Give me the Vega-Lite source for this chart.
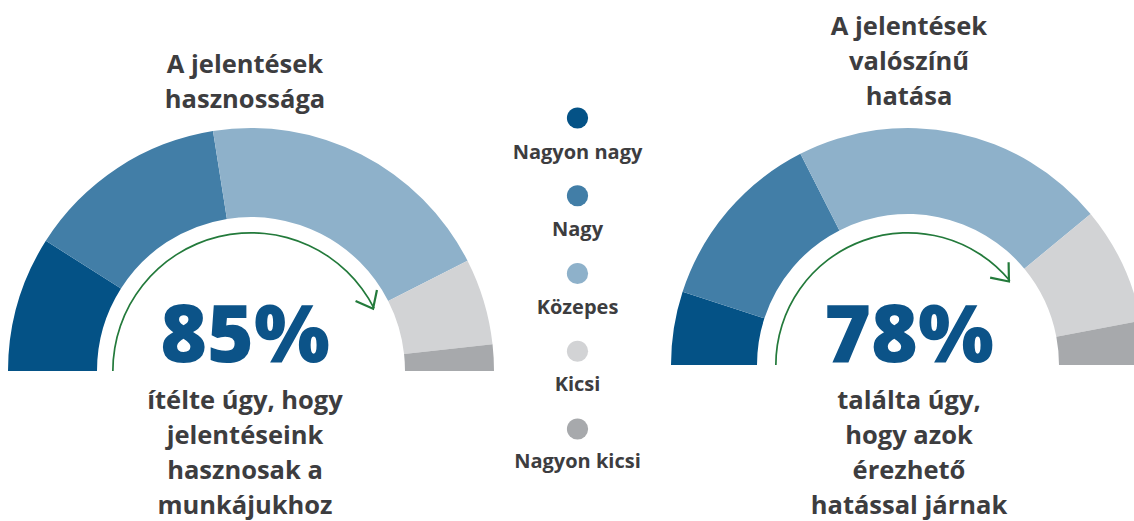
{
  "$schema": "https://vega.github.io/schema/vega-lite/v6.json",
  "width": 1134,
  "height": 521,
  "autosize": "none",
  "padding": 0,
  "background": "white",
  "config": {"view": {"stroke": null}},
  "datasets": {
    "segments": [
      {"gauge": "A", "category": "Nagyon nagy", "rank": 1, "share": 18},
      {"gauge": "A", "category": "Nagy", "rank": 2, "share": 27},
      {"gauge": "A", "category": "Közepes", "rank": 3, "share": 40},
      {"gauge": "A", "category": "Kicsi", "rank": 4, "share": 11.5},
      {"gauge": "A", "category": "Nagyon kicsi", "rank": 5, "share": 3.5},
      {"gauge": "B", "category": "Nagyon nagy", "rank": 1, "share": 10},
      {"gauge": "B", "category": "Nagy", "rank": 2, "share": 25},
      {"gauge": "B", "category": "Közepes", "rank": 3, "share": 43},
      {"gauge": "B", "category": "Kicsi", "rank": 4, "share": 16},
      {"gauge": "B", "category": "Nagyon kicsi", "rank": 5, "share": 6}
    ],
    "gauges": [
      {"gauge": "A", "pct": 0.85, "title": "A jelentések\nhasznossága", "caption": "ítélte úgy, hogy\njelentéseink\nhasznosak a\nmunkájukhoz"},
      {"gauge": "B", "pct": 0.78, "title": "A jelentések\nvalószínű\nhatása", "caption": "találta úgy,\nhogy azok\nérezhető\nhatással járnak"}
    ],
    "legend": [
      {"category": "Nagyon nagy"},
      {"category": "Nagy"},
      {"category": "Közepes"},
      {"category": "Kicsi"},
      {"category": "Nagyon kicsi"}
    ]
  },
  "layer": [
    {
      "data": {"name": "segments"},
      "transform": [
        {"filter": "datum.gauge === 'A'"},
        {"stack": "share", "groupby": ["gauge"], "sort": [{"field": "rank", "order": "ascending"}], "offset": "normalize", "as": ["v0", "v1"]}
      ],
      "mark": {"type": "arc", "radius": 243, "radius2": 154},
      "encoding": {
        "x": {"field": "gauge", "type": "nominal", "scale": {"type": "point", "domain": ["A", "L", "B"], "range": [251, 908], "padding": 0}, "axis": null},
        "y": {"field": "gauge", "type": "nominal", "scale": {"type": "point", "domain": ["A", "B"], "range": [371, 365], "padding": 0}, "axis": null},
        "theta": {"field": "v0", "type": "quantitative", "scale": {"domain": [0, 1], "range": [-1.5707963, 1.5707963]}},
        "theta2": {"field": "v1"},
        "color": {"field": "category", "type": "nominal", "scale": {"domain": ["Nagyon nagy", "Nagy", "Közepes", "Kicsi", "Nagyon kicsi"], "range": ["#045286", "#427ea7", "#8eb1ca", "#d2d3d5", "#a7a9ac"]}, "legend": null}
      }
    },
    {
      "data": {"name": "segments"},
      "transform": [
        {"filter": "datum.gauge === 'B'"},
        {"stack": "share", "groupby": ["gauge"], "sort": [{"field": "rank", "order": "ascending"}], "offset": "normalize", "as": ["v0", "v1"]}
      ],
      "mark": {"type": "arc", "radius": 237, "radius2": 151},
      "encoding": {
        "x": {"field": "gauge", "type": "nominal", "scale": {"type": "point", "domain": ["A", "L", "B"], "range": [251, 908], "padding": 0}, "axis": null},
        "y": {"field": "gauge", "type": "nominal", "scale": {"type": "point", "domain": ["A", "B"], "range": [371, 365], "padding": 0}, "axis": null},
        "theta": {"field": "v0", "type": "quantitative", "scale": {"domain": [0, 1], "range": [-1.5707963, 1.5707963]}},
        "theta2": {"field": "v1"},
        "color": {"field": "category", "type": "nominal", "scale": {"domain": ["Nagyon nagy", "Nagy", "Közepes", "Kicsi", "Nagyon kicsi"], "range": ["#045286", "#427ea7", "#8eb1ca", "#d2d3d5", "#a7a9ac"]}, "legend": null}
      }
    },
    {
      "data": {"name": "gauges"},
      "transform": [
        {"filter": "datum.gauge === 'A'"},
        {"stack": "pct", "groupby": ["gauge"], "as": ["a0", "a1"]}
      ],
      "mark": {"type": "arc", "radius": 139, "radius2": 137.3, "color": "#237a3b"},
      "encoding": {
        "x": {"field": "gauge", "type": "nominal", "scale": {"type": "point", "domain": ["A", "L", "B"], "range": [251, 908], "padding": 0}, "axis": null},
        "y": {"field": "gauge", "type": "nominal", "scale": {"type": "point", "domain": ["A", "B"], "range": [371, 365], "padding": 0}, "axis": null},
        "theta": {"field": "a0", "type": "quantitative", "scale": {"domain": [0, 1], "range": [-1.5707963, 1.5707963]}},
        "theta2": {"field": "a1"}
      }
    },
    {
      "data": {"name": "gauges"},
      "transform": [
        {"filter": "datum.gauge === 'B'"},
        {"stack": "pct", "groupby": ["gauge"], "as": ["a0", "a1"]}
      ],
      "mark": {"type": "arc", "radius": 133, "radius2": 131.3, "color": "#237a3b"},
      "encoding": {
        "x": {"field": "gauge", "type": "nominal", "scale": {"type": "point", "domain": ["A", "L", "B"], "range": [251, 908], "padding": 0}, "axis": null},
        "y": {"field": "gauge", "type": "nominal", "scale": {"type": "point", "domain": ["A", "B"], "range": [371, 365], "padding": 0}, "axis": null},
        "theta": {"field": "a0", "type": "quantitative", "scale": {"domain": [0, 1], "range": [-1.5707963, 1.5707963]}},
        "theta2": {"field": "a1"}
      }
    },
    {
      "data": {"name": "gauges"},
      "transform": [{"filter": "datum.gauge === 'A'"}],
      "mark": {"type": "point", "shape": "M -15 -149 L 0 -137 L -15 -125", "size": 4, "filled": false, "stroke": "#237a3b", "strokeWidth": 2.2, "opacity": 1},
      "encoding": {
        "x": {"field": "gauge", "type": "nominal", "scale": {"type": "point", "domain": ["A", "L", "B"], "range": [251, 908], "padding": 0}, "axis": null},
        "y": {"field": "gauge", "type": "nominal", "scale": {"type": "point", "domain": ["A", "B"], "range": [371, 365], "padding": 0}, "axis": null},
        "angle": {"field": "pct", "type": "quantitative", "scale": {"domain": [0, 1], "range": [-90, 90]}}
      }
    },
    {
      "data": {"name": "gauges"},
      "transform": [{"filter": "datum.gauge === 'B'"}],
      "mark": {"type": "point", "shape": "M -15 -143 L 0 -131 L -15 -119", "size": 4, "filled": false, "stroke": "#237a3b", "strokeWidth": 2.2, "opacity": 1},
      "encoding": {
        "x": {"field": "gauge", "type": "nominal", "scale": {"type": "point", "domain": ["A", "L", "B"], "range": [251, 908], "padding": 0}, "axis": null},
        "y": {"field": "gauge", "type": "nominal", "scale": {"type": "point", "domain": ["A", "B"], "range": [371, 365], "padding": 0}, "axis": null},
        "angle": {"field": "pct", "type": "quantitative", "scale": {"domain": [0, 1], "range": [-90, 90]}}
      }
    },
    {
      "data": {"name": "gauges"},
      "mark": {"type": "text", "font": "Open Sans", "fontWeight": "bold", "fontSize": 25.5, "lineHeight": 35, "lineBreak": "\n", "color": "#3d3d3f", "align": "center", "baseline": "alphabetic"},
      "encoding": {
        "x": {"field": "gauge", "type": "nominal", "scale": {"type": "point", "domain": ["A", "L", "B"], "range": [245, 909], "padding": 0}, "axis": null},
        "y": {"field": "gauge", "type": "nominal", "scale": {"type": "point", "domain": ["A", "B"], "range": [73, 35], "padding": 0}, "axis": null},
        "text": {"field": "title"}
      }
    },
    {
      "data": {"name": "gauges"},
      "mark": {"type": "text", "font": "Open Sans", "fontWeight": 800, "fontSize": 80, "color": "#0c5388", "align": "center", "baseline": "alphabetic"},
      "encoding": {
        "x": {"field": "gauge", "type": "nominal", "scale": {"type": "point", "domain": ["A", "L", "B"], "range": [245, 909], "padding": 0}, "axis": null},
        "y": {"field": "gauge", "type": "nominal", "scale": {"type": "point", "domain": ["A", "B"], "range": [362, 362], "padding": 0}, "axis": null},
        "text": {"field": "pct", "type": "quantitative", "format": ".0%"}
      }
    },
    {
      "data": {"name": "gauges"},
      "mark": {"type": "text", "font": "Open Sans", "fontWeight": "bold", "fontSize": 25.5, "lineHeight": 35, "lineBreak": "\n", "color": "#3d3d3f", "align": "center", "baseline": "alphabetic"},
      "encoding": {
        "x": {"field": "gauge", "type": "nominal", "scale": {"type": "point", "domain": ["A", "L", "B"], "range": [245, 909], "padding": 0}, "axis": null},
        "y": {"field": "gauge", "type": "nominal", "scale": {"type": "point", "domain": ["A", "B"], "range": [409, 409], "padding": 0}, "axis": null},
        "text": {"field": "caption"}
      }
    },
    {
      "data": {"name": "legend"},
      "transform": [{"calculate": "'L'", "as": "gauge"}],
      "mark": {"type": "point", "filled": true, "size": 450, "opacity": 1},
      "encoding": {
        "x": {"field": "gauge", "type": "nominal", "scale": {"type": "point", "domain": ["A", "L", "B"], "range": [247, 908], "padding": 0}, "axis": null},
        "y": {"field": "category", "type": "nominal", "scale": {"type": "point", "domain": ["Nagyon nagy", "Nagy", "Közepes", "Kicsi", "Nagyon kicsi"], "range": [118, 429], "padding": 0}, "axis": null},
        "color": {"field": "category", "type": "nominal", "legend": null}
      }
    },
    {
      "data": {"name": "legend"},
      "transform": [{"calculate": "'L'", "as": "gauge"}],
      "mark": {"type": "text", "font": "Open Sans", "fontWeight": "bold", "fontSize": 20, "color": "#3d3d3f", "align": "center", "baseline": "alphabetic"},
      "encoding": {
        "x": {"field": "gauge", "type": "nominal", "scale": {"type": "point", "domain": ["A", "L", "B"], "range": [247, 908], "padding": 0}, "axis": null},
        "y": {"field": "category", "type": "nominal", "scale": {"type": "point", "domain": ["Nagyon nagy", "Nagy", "Közepes", "Kicsi", "Nagyon kicsi"], "range": [159, 468], "padding": 0}, "axis": null},
        "text": {"field": "category"}
      }
    }
  ],
  "resolve": {"scale": {"x": "independent", "y": "independent"}}
}
